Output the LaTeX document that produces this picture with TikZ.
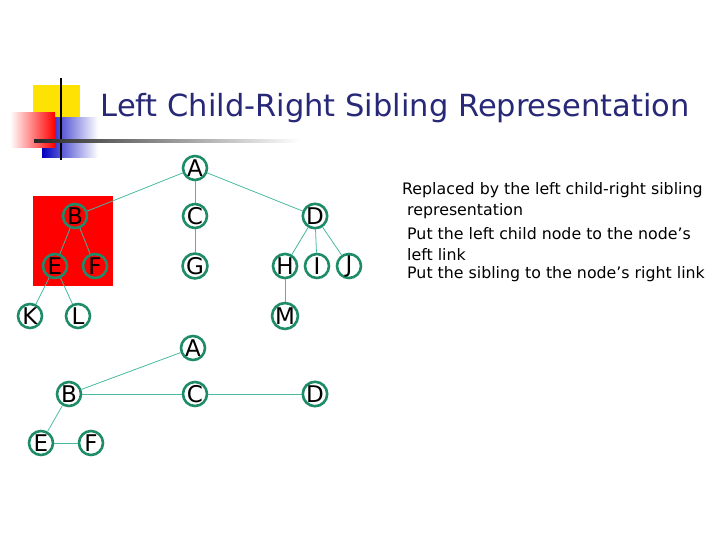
\documentclass[tikz,border=0pt]{standalone}
\usepackage{fontspec}
\setmainfont{DejaVu Sans}
\usetikzlibrary{calc}
\definecolor{ringgreen}{RGB}{30,140,105}
\definecolor{edgegreen}{RGB}{70,185,160}
\definecolor{titleblue}{RGB}{40,40,120}

\begin{document}
\begin{tikzpicture}[x=1pt,y=-1pt,
                main node/.style={circle,draw=ringgreen,line width=2.6pt,minimum size=24pt,inner sep=0pt,font=\fontsize{23}{23}\selectfont},
                tree edge/.style={edgegreen,line width=0.8pt}]
	\useasboundingbox (0,0) rectangle (720,540);
	% slide decoration
	\fill[yellow!85!orange] (33,85) rectangle (80,120);
	\shade[left color=blue!75!black,right color=white] (42,118) rectangle (98,158);
	\shade[left color=white,right color=red] (10,113) rectangle (55,148);
	\draw[black,line width=2.5pt] (61,78) -- (61,160);
	\shade[left color=black!85,right color=white] (34,139.5) rectangle (300,142.5);
	\node[titleblue,anchor=west,font=\fontsize{30.5}{30.5}\selectfont] (title) at (97,108) {Left Child-Right Sibling Representation};

	% upper tree
	\fill[red] (33,196) rectangle (113,286);
	\node[main node] (1) at (195,168) {A};
	\node[main node] (2) at (75,216) {B};
	\node[main node] (3) at (195,216) {C};
	\node[main node] (4) at (315,216) {D};
	\node[main node] (5) at (55,266) {E};
	\node[main node] (6) at (95,266) {F};
	\node[main node] (7) at (195,266) {G};
	\node[main node] (8) at (285,266) {H};
	\node[main node] (9) at (317,266) {I};
	\node[main node] (10) at (349,266) {J};
	\node[main node] (11) at (30,316) {K};
	\node[main node] (12) at (78,316) {L};
	\node[main node] (13) at (285,316) {M};
	\path[tree edge]
	(1) edge (2)
	(1) edge (3)
	(1) edge (4)
	(2) edge (5)
	(2) edge (6)
	(3) edge (7)
	(4) edge (8)
	(4) edge (9)
	(4) edge (10)
	(5) edge (11)
	(5) edge (12)
	(8) edge (13);

	% lower tree
	\node[main node] (21) at (193,348) {A};
	\node[main node] (22) at (69,394) {B};
	\node[main node] (23) at (195,394) {C};
	\node[main node] (24) at (315,394) {D};
	\node[main node] (25) at (41,443) {E};
	\node[main node] (26) at (91,443) {F};
	\path[tree edge]
	(21) edge (22)
	(22) edge (23)
	(23) edge (24)
	(22) edge (25)
	(25) edge (26);

	% notes
	\node[anchor=north west,align=left,inner sep=0pt,font=\fontsize{15.8}{21}\selectfont] (notes) at (402,182)
		{Replaced by the left child-right sibling\\
		\ representation\\[3pt]
		\ Put the left child node to the node’s\\
		\ left link\\[-3pt]
		\ Put the sibling to the node’s right link};
\end{tikzpicture}
\end{document}
